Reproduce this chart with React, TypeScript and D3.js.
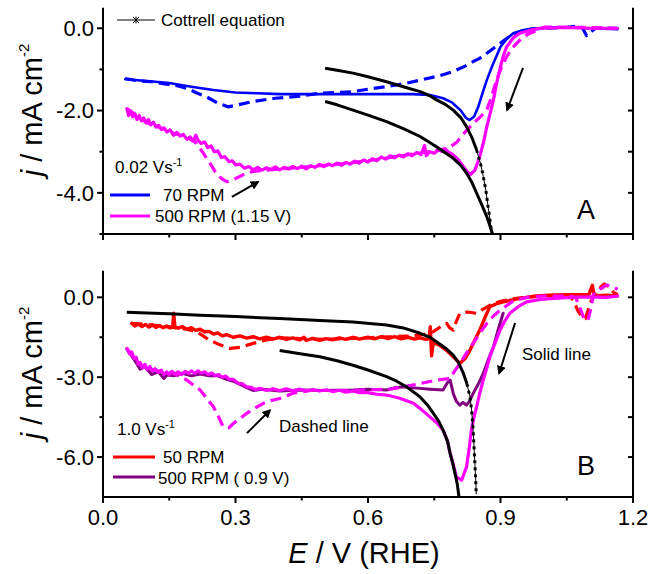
import React from 'react';
import * as d3 from 'd3';

type Pt = [number, number];

// ---------- Panel A (0.02 V/s) ----------
const aBlueSolid: Pt[] = [
  [0.05, -1.24], [0.1, -1.28], [0.15, -1.33], [0.2, -1.42], [0.25, -1.5], [0.3, -1.56], [0.35, -1.58],
  [0.4, -1.6], [0.5, -1.6], [0.6, -1.6], [0.7, -1.6], [0.74, -1.62], [0.77, -1.7], [0.79, -1.8],
  [0.81, -2.0], [0.822, -2.18], [0.83, -2.23], [0.84, -2.15], [0.85, -1.9], [0.86, -1.55], [0.869, -1.26],
  [0.88, -0.95], [0.89, -0.7], [0.9, -0.45], [0.915, -0.25], [0.929, -0.12], [0.95, -0.05], [0.975, 0],
  [1.05, 0.02], [1.1, 0.0], [1.165, -0.02],
];
const aBlueDashed: Pt[] = [
  [0.05, -1.22], [0.08, -1.28], [0.11, -1.3], [0.14, -1.35], [0.17, -1.4], [0.19, -1.46], [0.21, -1.56],
  [0.235, -1.67], [0.26, -1.82], [0.283, -1.91], [0.31, -1.85], [0.34, -1.78], [0.39, -1.7], [0.446, -1.65],
  [0.49, -1.58], [0.566, -1.54], [0.6, -1.48], [0.642, -1.42], [0.68, -1.35], [0.718, -1.26], [0.76, -1.16],
  [0.793, -1.05], [0.82, -0.92], [0.84, -0.8], [0.853, -0.73], [0.87, -0.6], [0.885, -0.48], [0.9, -0.36],
  [0.92, -0.2], [0.944, -0.08], [0.97, -0.02], [1.0, 0.0], [1.05, 0.02], [1.07, 0.05], [1.085, 0.02],
  [1.095, -0.18], [1.105, -0.08], [1.115, 0.0], [1.165, 0.0],
];
const aMagentaSolid: Pt[] = [
  [0.054, -1.95], [0.058, -2.12], [0.062, -2.0], [0.067, -2.15], [0.072, -2.08], [0.077, -2.22],
  [0.082, -2.12], [0.087, -2.25], [0.092, -2.18], [0.097, -2.3], [0.103, -2.22], [0.108, -2.35],
  [0.114, -2.28], [0.12, -2.4], [0.126, -2.36], [0.132, -2.46], [0.138, -2.42], [0.145, -2.52],
  [0.152, -2.47], [0.16, -2.6], [0.167, -2.53], [0.175, -2.62], [0.182, -2.58], [0.19, -2.7],
  [0.197, -2.64], [0.205, -2.74], [0.21, -2.6], [0.215, -2.72], [0.222, -2.8], [0.23, -2.76],
  [0.237, -2.9], [0.245, -2.86], [0.252, -3.0], [0.26, -2.98], [0.268, -3.14], [0.276, -3.12],
  [0.285, -3.24], [0.293, -3.22], [0.3, -3.32], [0.31, -3.3], [0.32, -3.4], [0.33, -3.36], [0.34, -3.44],
  [0.35, -3.38], [0.36, -3.45], [0.37, -3.39], [0.38, -3.43], [0.39, -3.37], [0.4, -3.44], [0.41, -3.38],
  [0.42, -3.42], [0.43, -3.36], [0.44, -3.41], [0.45, -3.35], [0.46, -3.42], [0.47, -3.34], [0.48, -3.38],
  [0.49, -3.31], [0.5, -3.36], [0.51, -3.3], [0.52, -3.34], [0.53, -3.28], [0.54, -3.33], [0.55, -3.26],
  [0.56, -3.3], [0.57, -3.23], [0.58, -3.28], [0.59, -3.2], [0.6, -3.25], [0.61, -3.17], [0.62, -3.22],
  [0.63, -3.13], [0.64, -3.18], [0.65, -3.1], [0.66, -3.15], [0.67, -3.08], [0.68, -3.13], [0.69, -3.05],
  [0.7, -3.1], [0.71, -3.02], [0.72, -3.07], [0.728, -2.85], [0.732, -3.1], [0.74, -3.0], [0.75, -3.04],
  [0.76, -2.95], [0.768, -3.0], [0.775, -2.93], [0.783, -3.02], [0.79, -3.05], [0.805, -3.2],
  [0.82, -3.42], [0.831, -3.56], [0.842, -3.45], [0.853, -3.12], [0.862, -2.75], [0.869, -2.39],
  [0.877, -2.05], [0.884, -1.74], [0.892, -1.3], [0.9, -0.93], [0.907, -0.65], [0.914, -0.45],
  [0.93, -0.22], [0.944, -0.12], [0.97, -0.04], [0.99, 0], [1.05, 0.02], [1.1, 0.0], [1.165, 0.0],
];
const aMagentaDashed: Pt[] = [
  [0.054, -1.95], [0.08, -2.15], [0.1, -2.3], [0.13, -2.42], [0.16, -2.55], [0.19, -2.65], [0.21, -2.78],
  [0.225, -3.0], [0.242, -3.28], [0.255, -3.5], [0.268, -3.65], [0.28, -3.73], [0.295, -3.68], [0.31, -3.6],
  [0.325, -3.52], [0.34, -3.48], [0.37, -3.45], [0.4, -3.42], [0.45, -3.38], [0.5, -3.33], [0.55, -3.28],
  [0.6, -3.22], [0.65, -3.14], [0.7, -3.06], [0.75, -2.98], [0.78, -2.92], [0.8, -2.78], [0.82, -2.52],
  [0.838, -2.31], [0.855, -2.15], [0.869, -1.99], [0.88, -1.65], [0.891, -1.26], [0.902, -0.95],
  [0.914, -0.69], [0.925, -0.5], [0.937, -0.36], [0.95, -0.22], [0.967, -0.12], [0.985, -0.04],
  [1.0, 0.03], [1.1, 0.02], [1.165, 0.0],
];
const aCottrellUpper: Pt[] = [
  [0.503, -0.97], [0.53, -1.02], [0.566, -1.09], [0.6, -1.18], [0.642, -1.3], [0.68, -1.42], [0.718, -1.54],
  [0.74, -1.64], [0.755, -1.74], [0.775, -1.85], [0.793, -1.99], [0.81, -2.17], [0.823, -2.39], [0.835, -2.65],
  [0.846, -2.96], [0.855, -3.3], [0.861, -3.6], [0.867, -3.95], [0.872, -4.34], [0.876, -4.65], [0.88, -4.98],
];
const aCottrellLower: Pt[] = [
  [0.503, -1.78], [0.53, -1.86], [0.566, -1.99], [0.6, -2.11], [0.642, -2.27], [0.68, -2.44], [0.718, -2.63],
  [0.755, -2.88], [0.793, -3.16], [0.81, -3.33], [0.823, -3.52], [0.835, -3.74], [0.846, -4.01], [0.858, -4.3],
  [0.869, -4.58], [0.876, -4.8], [0.882, -5.0],
];

// ---------- Panel B (1.0 V/s) ----------
const bRedSolid: Pt[] = [
  [0.065, -0.98], [0.072, -1.08], [0.08, -1.0], [0.088, -1.1], [0.096, -1.02], [0.104, -1.12], [0.112, -1.04],
  [0.12, -1.13], [0.128, -1.06], [0.136, -1.14], [0.144, -1.08], [0.152, -1.15], [0.158, -1.08], [0.16, -0.6],
  [0.163, -1.12], [0.17, -1.16], [0.18, -1.1], [0.19, -1.2], [0.2, -1.14], [0.21, -1.24], [0.22, -1.2],
  [0.23, -1.3], [0.24, -1.28], [0.25, -1.38], [0.26, -1.34], [0.27, -1.45], [0.28, -1.4], [0.295, -1.5],
  [0.31, -1.45], [0.325, -1.53], [0.34, -1.48], [0.355, -1.56], [0.37, -1.5], [0.385, -1.57], [0.4, -1.5],
  [0.415, -1.58], [0.43, -1.52], [0.445, -1.6], [0.455, -1.5], [0.46, -1.62], [0.475, -1.54], [0.49, -1.62],
  [0.505, -1.55], [0.52, -1.6], [0.535, -1.52], [0.55, -1.58], [0.566, -1.5], [0.58, -1.57], [0.6, -1.5],
  [0.615, -1.56], [0.63, -1.48], [0.645, -1.55], [0.66, -1.48], [0.675, -1.56], [0.69, -1.5], [0.705, -1.57],
  [0.718, -1.52], [0.73, -1.58], [0.738, -1.55], [0.741, -1.1], [0.744, -2.2], [0.748, -1.7],
  [0.762, -1.8], [0.775, -1.95], [0.793, -2.23], [0.808, -2.48], [0.82, -2.3], [0.831, -1.98],
  [0.842, -1.6], [0.853, -1.23], [0.865, -0.75], [0.876, -0.35], [0.89, -0.25], [0.906, -0.17],
  [0.944, -0.04], [0.98, 0.05], [1.02, 0.09], [1.06, 0.1], [1.1, 0.1], [1.108, 0.45], [1.112, 0.05],
  [1.14, 0.08], [1.165, 0.05],
];
const bRedDashed: Pt[] = [
  [0.065, -0.98], [0.1, -1.02], [0.144, -1.1], [0.19, -1.2], [0.213, -1.3], [0.24, -1.6], [0.26, -1.75],
  [0.288, -1.92], [0.31, -1.88], [0.34, -1.73], [0.37, -1.6], [0.4, -1.52], [0.45, -1.55], [0.5, -1.58],
  [0.55, -1.55], [0.6, -1.52], [0.65, -1.48], [0.7, -1.45], [0.73, -1.38], [0.748, -1.29], [0.765, -1.1],
  [0.778, -0.98], [0.785, -1.15], [0.793, -1.23], [0.8, -0.9], [0.808, -0.6], [0.825, -0.55], [0.846, -0.6],
  [0.86, -0.45], [0.876, -0.3], [0.9, -0.15], [0.93, -0.05], [0.97, 0.02], [1.02, 0.06], [1.055, 0.05],
  [1.065, -0.1], [1.075, -0.5], [1.085, -0.75], [1.092, -0.8], [1.098, -0.5], [1.105, -0.15], [1.115, 0.1],
  [1.125, 0.35], [1.135, 0.5], [1.145, 0.4], [1.155, 0.2], [1.165, 0.1],
];
const bMagentaSolid: Pt[] = [
  [0.054, -1.92], [0.06, -2.12], [0.065, -2.05], [0.07, -2.3], [0.075, -2.25], [0.08, -2.5], [0.084, -2.45],
  [0.09, -2.65], [0.095, -2.52], [0.1, -2.72], [0.106, -2.6], [0.112, -2.78], [0.118, -2.68], [0.125, -2.82],
  [0.132, -2.74], [0.138, -2.9], [0.144, -2.8], [0.15, -2.9], [0.156, -2.78], [0.162, -2.88], [0.17, -2.8],
  [0.178, -2.9], [0.186, -2.78], [0.194, -2.86], [0.2, -2.76], [0.208, -2.86], [0.215, -2.76], [0.222, -2.85],
  [0.23, -2.8], [0.238, -2.9], [0.246, -2.84], [0.254, -2.94], [0.262, -2.9], [0.27, -3.0], [0.278, -2.96],
  [0.286, -3.08], [0.295, -3.08], [0.305, -3.22], [0.315, -3.24], [0.325, -3.36], [0.335, -3.38],
  [0.345, -3.46], [0.355, -3.42], [0.37, -3.5], [0.385, -3.44], [0.4, -3.5], [0.415, -3.44], [0.43, -3.51],
  [0.446, -3.45], [0.46, -3.52], [0.475, -3.46], [0.49, -3.52], [0.505, -3.47], [0.52, -3.54],
  [0.535, -3.49], [0.55, -3.56], [0.566, -3.52], [0.58, -3.58], [0.6, -3.58], [0.62, -3.64], [0.642, -3.67],
  [0.67, -3.78], [0.703, -3.98], [0.72, -4.2], [0.74, -4.49], [0.755, -4.7], [0.77, -4.99], [0.78, -5.4],
  [0.786, -5.86], [0.795, -6.4], [0.8, -6.74], [0.812, -6.87], [0.823, -6.37], [0.829, -5.7], [0.834, -4.99],
  [0.84, -4.5], [0.846, -4.11], [0.853, -3.6], [0.861, -3.11], [0.869, -2.65], [0.876, -2.23], [0.888, -1.7],
  [0.899, -1.23], [0.91, -0.88], [0.921, -0.6], [0.94, -0.35], [0.959, -0.17], [0.99, -0.08], [1.02, -0.04],
  [1.06, 0.0], [1.1, 0.02], [1.14, 0.0], [1.165, 0.05],
];
const bMagentaDashed: Pt[] = [
  [0.054, -1.92], [0.084, -2.55], [0.12, -2.75], [0.16, -2.85], [0.19, -3.11], [0.205, -3.3], [0.22, -3.48],
  [0.235, -3.8], [0.25, -4.11], [0.262, -4.5], [0.272, -4.86], [0.285, -4.9], [0.295, -4.74], [0.31, -4.55],
  [0.325, -4.36], [0.345, -4.15], [0.363, -3.98], [0.38, -3.88], [0.4, -3.8], [0.43, -3.6], [0.47, -3.5],
  [0.55, -3.5], [0.65, -3.45], [0.7, -3.3], [0.755, -3.11], [0.785, -3.05], [0.795, -2.8], [0.808, -2.48],
  [0.823, -2.1], [0.838, -1.73], [0.853, -1.35], [0.869, -0.98], [0.884, -0.7], [0.899, -0.48], [0.915, -0.3],
  [0.93, -0.12], [0.96, 0.0], [1.0, 0.05], [1.05, 0.05], [1.07, 0.0], [1.08, -0.4], [1.09, -0.85],
  [1.098, -0.85], [1.105, -0.4], [1.11, 0.1], [1.125, 0.3], [1.14, 0.46], [1.155, 0.4], [1.165, 0.3],
];
const bPurple: Pt[] = [
  [0.054, -1.95], [0.065, -2.2], [0.075, -2.45], [0.084, -2.7], [0.095, -2.6], [0.11, -2.9], [0.125, -2.8],
  [0.138, -3.05], [0.144, -2.92], [0.16, -2.95], [0.18, -2.85], [0.2, -2.95], [0.22, -2.88], [0.24, -2.95],
  [0.26, -2.95], [0.28, -3.08], [0.295, -3.15], [0.32, -3.35], [0.34, -3.5], [0.36, -3.45], [0.4, -3.52],
  [0.45, -3.48], [0.5, -3.5], [0.566, -3.48], [0.6, -3.45], [0.642, -3.48], [0.66, -3.4], [0.68, -3.36],
  [0.7, -3.4], [0.718, -3.42], [0.74, -3.45], [0.77, -3.48], [0.78, -3.2], [0.786, -3.11], [0.793, -3.61],
  [0.8, -3.9], [0.808, -4.05], [0.815, -3.95], [0.823, -4.05], [0.83, -3.9], [0.838, -3.61], [0.85, -3.25],
  [0.861, -2.86], [0.872, -2.35], [0.884, -1.86], [0.895, -1.2], [0.906, -0.6],
];
const bCottrellUpper: Pt[] = [
  [0.054, -0.56], [0.1, -0.59], [0.15, -0.62], [0.22, -0.67], [0.3, -0.72], [0.4, -0.8], [0.491, -0.87],
  [0.566, -0.93], [0.642, -1.04], [0.68, -1.15], [0.718, -1.35], [0.74, -1.5], [0.755, -1.67], [0.775, -1.9],
  [0.793, -2.17], [0.805, -2.45], [0.816, -2.86], [0.824, -3.25], [0.831, -3.74], [0.835, -4.3], [0.838, -4.99],
  [0.84, -5.6], [0.842, -6.24], [0.844, -6.9], [0.845, -7.4],
];
const bCottrellLower: Pt[] = [
  [0.4, -2.0], [0.45, -2.13], [0.491, -2.23], [0.53, -2.38], [0.566, -2.55], [0.6, -2.73], [0.642, -2.98],
  [0.665, -3.15], [0.687, -3.36], [0.718, -3.74], [0.735, -4.05], [0.748, -4.36], [0.76, -4.65], [0.77, -4.99],
  [0.78, -5.4], [0.786, -5.86], [0.792, -6.25], [0.797, -6.62], [0.802, -7.0], [0.806, -7.5],
];

// ---------- Axes / ticks ----------
const xTickValues = [0, 0.3, 0.6, 0.9, 1.2];
const xTickLabels = ['0.0', '0.3', '0.6', '0.9', '1.2'];
const xMinorTicks = [0.15, 0.45, 0.75, 1.05];
const aYTickValues = [0, -2, -4];
const aYTickLabels = ['0.0', '-2.0', '-4.0'];
const aYMinorTicks = [-1, -3, -5];
const bYTickValues = [0, -3, -6];
const bYTickLabels = ['0.0', '-3.0', '-6.0'];
const bYMinorTicks = [-1.5, -4.5];
const aRightTicks = [0, -1, -2, -3, -4];
const bRightTicks = [0, -1.5, -3, -4.5, -6];

// annotation arrows in data coordinates [from, to]
const aArrows: [Pt, Pt][] = [
  [[0.292, -4.1], [0.351, -3.735]],
  [[0.951, -0.965], [0.915, -1.985]],
];
const bArrows: [Pt, Pt][] = [
  [[0.326, -5.1], [0.378, -4.24]],
  [[0.933, -0.966], [0.897, -2.85]],
];

const FONT = "Arial, 'Liberation Sans', Helvetica, sans-serif";
const BLUE = '#0000ff';
const MAGENTA = '#ff00ff';
const RED = '#ff0000';
const PURPLE = '#800080';

export default function App() {
  const left = 103, right = 633;
  const x = d3.scaleLinear().domain([0, 1.2]).range([left, right]);
  const yA = d3.scaleLinear().domain([-5, 0.5]).range([234, 7.7]);
  const yB = d3.scaleLinear().domain([-7.5, 1.0]).range([497, 270.7]);

  const mkLine = (y: d3.ScaleLinear<number, number>) =>
    d3.line<Pt>().x((d) => x(d[0])).y((d) => y(d[1])).curve(d3.curveLinear);
  const lA = mkLine(yA);
  const lB = mkLine(yB);

  const solid = (d: string | null, color: string, w = 2.6) => (
    <path d={d || ''} fill="none" stroke={color} strokeWidth={w} strokeLinejoin="round" strokeLinecap="round" />
  );
  const dashed = (d: string | null, color: string, w = 3.2) => (
    <path d={d || ''} fill="none" stroke={color} strokeWidth={w} strokeDasharray="11 6" strokeLinejoin="round" />
  );

  const cottrell = (data: Pt[], line: d3.Line<Pt>, dotBelow: number | null) => {
    if (dotBelow === null) {
      return <path d={line(data) || ''} fill="none" stroke="#000" strokeWidth={3} strokeLinejoin="round" />;
    }
    const idx = data.findIndex((p) => p[1] <= dotBelow);
    const thick = data.slice(0, idx + 1);
    const dotted = data.slice(idx);
    return (
      <g>
        <path d={line(data) || ''} fill="none" stroke="#000" strokeWidth={1} />
        <path d={line(thick) || ''} fill="none" stroke="#000" strokeWidth={3} strokeLinejoin="round" />
        <path d={line(dotted) || ''} fill="none" stroke="#000" strokeWidth={3} strokeDasharray="3 4" />
      </g>
    );
  };

  const panelAxes = (
    y: d3.ScaleLinear<number, number>,
    majors: number[],
    labels: string[],
    minors: number[],
    rightTicks: number[],
    showX: boolean
  ) => {
    const [y0, y1] = y.range();
    return (
      <g stroke="#000" fill="none">
        <line x1={left} x2={left} y1={y1} y2={y0} strokeWidth={2} />
        <line x1={right} x2={right} y1={y1} y2={y0} strokeWidth={2} />
        <line x1={left - 1} x2={right + 1} y1={y0} y2={y0} strokeWidth={2} />
        {majors.map((v) => (
          <line key={'m' + v} x1={left - 6} x2={left} y1={y(v)} y2={y(v)} strokeWidth={2} />
        ))}
        {minors.map((v) => (
          <line key={'n' + v} x1={left - 3.5} x2={left} y1={y(v)} y2={y(v)} strokeWidth={2} />
        ))}
        {rightTicks.map((v) => (
          <line key={'r' + v} x1={right - 5} x2={right} y1={y(v)} y2={y(v)} strokeWidth={2} />
        ))}
        {xTickValues.map((v) => (
          <line key={'x' + v} x1={x(v)} x2={x(v)} y1={y0} y2={y0 + 6} strokeWidth={2} />
        ))}
        {xMinorTicks.map((v) => (
          <line key={'xm' + v} x1={x(v)} x2={x(v)} y1={y0} y2={y0 + 3.5} strokeWidth={2} />
        ))}
        <g stroke="none" fill="#000" fontFamily={FONT} fontSize={22} textAnchor="end">
          {majors.map((v, i) => (
            <text key={'t' + v} x={left - 9} y={y(v)} dy="0.36em">
              {labels[i]}
            </text>
          ))}
        </g>
        {showX && (
          <g stroke="none" fill="#000" fontFamily={FONT} fontSize={22} textAnchor="middle">
            {xTickValues.map((v, i) => (
              <text key={'xl' + v} x={x(v)} y={y0 + 28}>
                {xTickLabels[i]}
              </text>
            ))}
          </g>
        )}
      </g>
    );
  };

  const arrow = (a: [Pt, Pt], y: d3.ScaleLinear<number, number>, k: string) => (
    <line
      key={k}
      x1={x(a[0][0])}
      y1={y(a[0][1])}
      x2={x(a[1][0])}
      y2={y(a[1][1])}
      stroke="#000"
      strokeWidth={2}
      markerEnd="url(#arrowHead)"
    />
  );

  const yLabel = (cy: number) => (
    <text
      transform={`translate(42,${cy}) rotate(-90)`}
      textAnchor="middle"
      fontFamily={FONT}
      fontSize={29}
      fill="#000"
    >
      <tspan fontStyle="italic">j</tspan>
      <tspan> / mA cm</tspan>
      <tspan fontSize={15} dy={-13}>-2</tspan>
    </text>
  );

  return (
    <svg
      width={651}
      height={574}
      style={{ position: 'absolute', left: 0, top: 0, background: '#fff', display: 'block' }}
    >
      <defs>
        <marker id="arrowHead" viewBox="0 0 10 10" refX="8" refY="5" markerWidth="4.5" markerHeight="4.5" orient="auto">
          <path d="M0,0 L10,5 L0,10 z" fill="#000" />
        </marker>
        <clipPath id="clipA">
          <rect x={left} y={0} width={right - left} height={234} />
        </clipPath>
        <clipPath id="clipB">
          <rect x={left} y={262} width={right - left} height={235} />
        </clipPath>
      </defs>

      {/* Panel A */}
      <g clipPath="url(#clipA)">
        {dashed(lA(aBlueDashed), BLUE)}
        {solid(lA(aBlueSolid), BLUE)}
        {dashed(lA(aMagentaDashed), MAGENTA)}
        {solid(lA(aMagentaSolid), MAGENTA, 3.2)}
        {cottrell(aCottrellLower, lA, null)}
        {cottrell(aCottrellUpper, lA, -2.96)}
      </g>
      {panelAxes(yA, aYTickValues, aYTickLabels, aYMinorTicks, aRightTicks, false)}
      {aArrows.map((a, i) => arrow(a, yA, 'aa' + i))}

      {/* Panel A legend */}
      <g fontFamily={FONT} fontSize={17} fill="#000">
        <line x1={117} x2={155} y1={20} y2={20} stroke="#000" strokeWidth={1} />
        <g stroke="#000" strokeWidth={1}>
          <line x1={133} x2={139} y1={17} y2={23} />
          <line x1={133} x2={139} y1={23} y2={17} />
          <line x1={136} x2={136} y1={16.5} y2={23.5} />
        </g>
        <text x={161} y={26}>Cottrell equation</text>
        <text x={115} y={173}>
          0.02 Vs<tspan fontSize={11} dy={-7}>-1</tspan>
        </text>
        <line x1={110} x2={150} y1={195} y2={195} stroke={BLUE} strokeWidth={3} />
        <text x={163} y={201}>70 RPM</text>
        <line x1={110} x2={150} y1={216} y2={216} stroke={MAGENTA} strokeWidth={3} />
        <text x={155} y={222}>500 RPM (1.15 V)</text>
        <text x={577} y={219} fontSize={27}>A</text>
      </g>

      {/* Panel B */}
      <g clipPath="url(#clipB)">
        {dashed(lB(bRedDashed), RED)}
        {solid(lB(bRedSolid), RED, 3.4)}
        {solid(lB(bPurple), PURPLE, 3)}
        {dashed(lB(bMagentaDashed), MAGENTA)}
        {solid(lB(bMagentaSolid), MAGENTA, 3.2)}
        {cottrell(bCottrellLower, lB, null)}
        {cottrell(bCottrellUpper, lB, -3.25)}
      </g>
      {panelAxes(yB, bYTickValues, bYTickLabels, bYMinorTicks, bRightTicks, true)}
      {bArrows.map((a, i) => arrow(a, yB, 'ba' + i))}

      <g fontFamily={FONT} fontSize={17} fill="#000">
        <text x={117} y={435}>
          1.0 Vs<tspan fontSize={11} dy={-7}>-1</tspan>
        </text>
        <line x1={113} x2={155} y1={457} y2={457} stroke={RED} strokeWidth={3} />
        <text x={163} y={463}>50 RPM</text>
        <line x1={113} x2={155} y1={477} y2={477} stroke={PURPLE} strokeWidth={3} />
        <text x={158} y={484}>500 RPM ( 0.9 V)</text>
        <text x={522} y={360}>Solid line</text>
        <text x={279} y={432}>Dashed line</text>
        <text x={577} y={475} fontSize={27}>B</text>
      </g>

      {yLabel(110)}
      {yLabel(373)}
      <text x={364} y={563} textAnchor="middle" fontFamily={FONT} fontSize={29} fill="#000">
        <tspan fontStyle="italic">E</tspan>
        <tspan> / V (RHE)</tspan>
      </text>
    </svg>
  );
}
